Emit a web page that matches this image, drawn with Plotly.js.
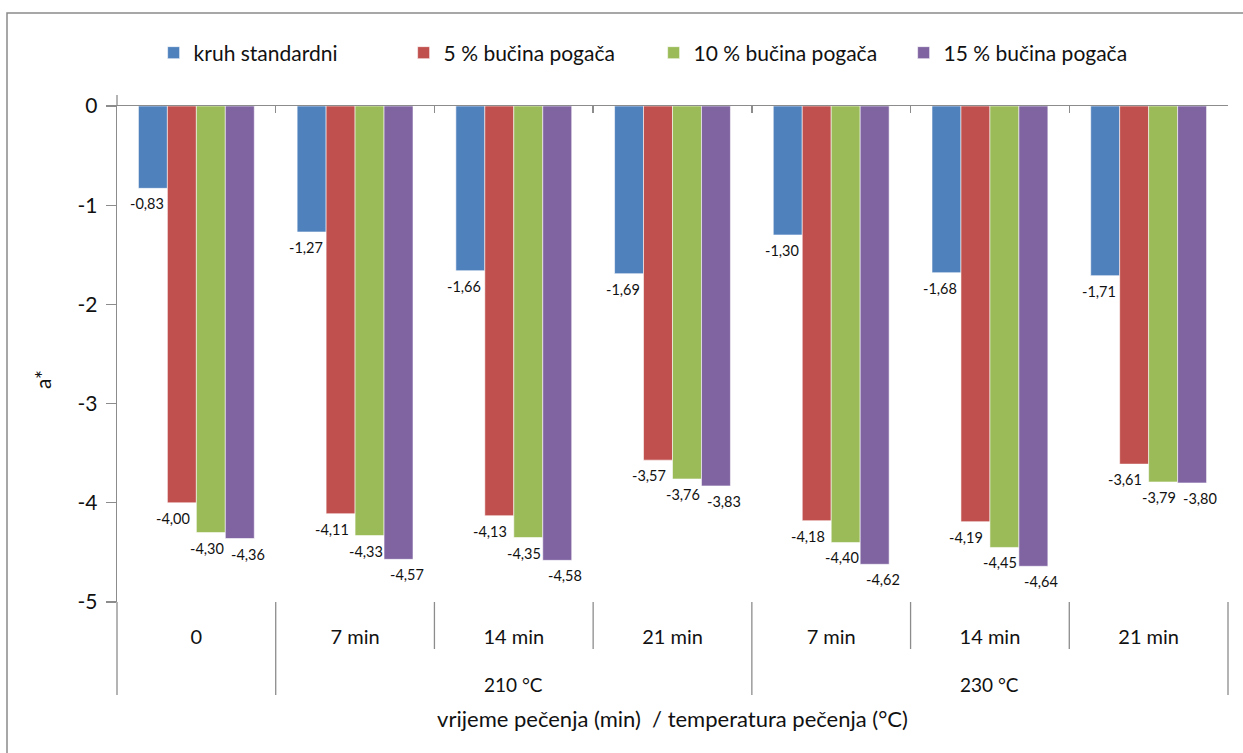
<!DOCTYPE html>
<html>
<head>
<meta charset="utf-8">
<script src="https://cdn.plot.ly/plotly-3.0.1.min.js"></script>
<style>html,body{margin:0;padding:0;background:#fff;}#chart{width:1243px;height:753px;}</style>
</head>
<body>
<div id="chart"></div>
<script>
// ---- data ----
const timeLabels = ['0', '7 min', '14 min', '21 min', '7 min', '14 min', '21 min'];
const tempLabels = ['', '210 °C', '230 °C'];
const tempSpans = [1, 3, 3];
const seriesNames = ['kruh standardni', '5 % bučina pogača', '10 % bučina pogača', '15 % bučina pogača'];
const kruhStandardni = [-0.83, -1.27, -1.66, -1.69, -1.30, -1.68, -1.71];
const bucina5 = [-4.00, -4.11, -4.13, -3.57, -4.18, -4.19, -3.61];
const bucina10 = [-4.30, -4.33, -4.35, -3.76, -4.40, -4.45, -3.79];
const bucina15 = [-4.36, -4.57, -4.58, -3.83, -4.62, -4.64, -3.80];
const yTicks = [0, -1, -2, -3, -4, -5];
const yTickText = ['0', '-1', '-2', '-3', '-4', '-5'];
const xTitle = 'vrijeme pečenja (min)  / temperatura pečenja (°C)';
const yTitle = 'a*';

// ---- styling ----
const colors = ['#4F81BD', '#C0504D', '#9BBB59', '#8064A2'];
const labelNudge = [-6, -9, -4, 8];
const FONT = 'Lato, "Open Sans", "DejaVu Sans", sans-serif';
const axisGray = '#8c8c8c';
const textColor = '#111111';
const bargap = 0.27;

const allSeries = [kruhStandardni, bucina5, bucina10, bucina15];
const xIdx = timeLabels.map((_, i) => i);
const nCat = timeLabels.length;

const traces = allSeries.map((vals, s) => ({
  type: 'bar',
  name: seriesNames[s],
  x: xIdx,
  y: vals,
  marker: {color: colors[s], line: {color: 'rgba(255,255,255,0.7)', width: 0.8}},
  hoverinfo: 'skip'
}));
// empty trace so that the top (zero-line) axis gets drawn
traces.push({type: 'scatter', x: [], y: [], xaxis: 'x2', yaxis: 'y', showlegend: false, hoverinfo: 'skip'});

// data labels
const annotations = [];
const barW = (1 - bargap) / allSeries.length;
allSeries.forEach((vals, s) => {
  vals.forEach((v, i) => {
    annotations.push({
      x: i + (s - (allSeries.length - 1) / 2) * barW,
      y: v,
      xref: 'x', yref: 'y',
      text: v.toFixed(2).replace('.', ','),
      showarrow: false,
      xanchor: 'center', yanchor: 'top',
      xshift: labelNudge[s], yshift: -5,
      font: {family: FONT, size: 14.5, color: textColor}
    });
  });
});

const plotH = 496;
const plotW = 1111;
// y axis title
annotations.push({
  x: (42 - 117) / plotW, xref: 'paper', y: -(380 - 602) / plotH, yref: 'paper',
  text: yTitle, textangle: -90, showarrow: false, xanchor: 'center', yanchor: 'middle',
  font: {family: FONT, size: 21, color: textColor}
});

// second-level category labels and separators
const shapes = [];
const yShort = -(47 / plotH);
const yLong = -(93 / plotH);
let start = 0;
const groupEdges = [-0.5];
tempLabels.forEach((lab, g) => {
  const end = start + tempSpans[g];
  if (lab) {
    annotations.push({
      x: (start + end - 1) / 2, xref: 'x',
      y: -(82 / plotH), yref: 'paper',
      text: lab, showarrow: false, xanchor: 'center', yanchor: 'middle',
      font: {family: FONT, size: 19, color: textColor}
    });
  }
  groupEdges.push(end - 0.5);
  start = end;
});
for (let b = 0; b <= nCat; b++) {
  const edge = b - 0.5;
  const isLong = groupEdges.includes(edge);
  shapes.push({
    type: 'line', xref: 'paper', yref: 'paper',
    x0: b / nCat, x1: b / nCat, y0: 0, y1: isLong ? yLong : yShort,
    line: {color: axisGray, width: 1.3}
  });
}
// y axis extension above zero
shapes.push({type: 'line', xref: 'paper', yref: 'paper', x0: 0, x1: 0, y0: 1, y1: 1 + 11 / plotH,
  line: {color: axisGray, width: 1.3}});
// chart border
shapes.push({type: 'rect', xref: 'paper', yref: 'paper',
  x0: (7 - 117) / plotW, x1: (1260 - 117) / plotW,
  y0: -(170 / plotH), y1: 1 + (106 - 13) / plotH,
  line: {color: '#8a8a8a', width: 1.5}, fillcolor: 'rgba(0,0,0,0)'});

const layout = {
  width: 1243, height: 753,
  margin: {l: 117, r: 15, t: 106, b: 151},
  paper_bgcolor: '#ffffff', plot_bgcolor: '#ffffff',
  font: {family: FONT, color: textColor},
  barmode: 'group', bargap: bargap, bargroupgap: 0,
  showlegend: true,
  legend: {
    orientation: 'h', x: 0.483, xanchor: 'center', y: 1 + 53 / plotH, yanchor: 'middle',
    font: {family: FONT, size: 21, color: textColor},
    entrywidth: 205, traceorder: 'normal'
  },
  xaxis: {
    range: [-0.5, nCat - 0.5],
    tickvals: xIdx, ticktext: timeLabels,
    ticks: '', showline: false, showgrid: false, zeroline: false,
    tickfont: {family: FONT, size: 20, color: textColor},
    ticklabelstandoff: 21,
    title: {text: xTitle, font: {family: FONT, size: 22, color: textColor}, standoff: 64},
    fixedrange: true
  },
  xaxis2: {
    overlaying: 'x', side: 'top', anchor: 'y',
    range: [-0.5, nCat - 0.5],
    tickvals: xIdx.map(i => i + 0.5),
    ticks: 'inside', ticklen: 7, tickcolor: axisGray, tickwidth: 1.3,
    showticklabels: false, showline: true, linecolor: axisGray, linewidth: 1.5,
    showgrid: false, zeroline: false, fixedrange: true
  },
  yaxis: {
    range: [-5, 0],
    tickvals: yTicks, ticktext: yTickText,
    ticks: 'outside', ticklen: 10, tickcolor: axisGray, tickwidth: 1.3,
    showline: true, linecolor: axisGray, linewidth: 1.3,
    showgrid: false, zeroline: false,
    tickfont: {family: FONT, size: 21, color: textColor},
    ticklabelstandoff: 4,
    fixedrange: true
  },
  annotations: annotations,
  shapes: shapes
};

Plotly.newPlot('chart', traces, layout, {displayModeBar: false, staticPlot: true});
</script>
</body>
</html>
